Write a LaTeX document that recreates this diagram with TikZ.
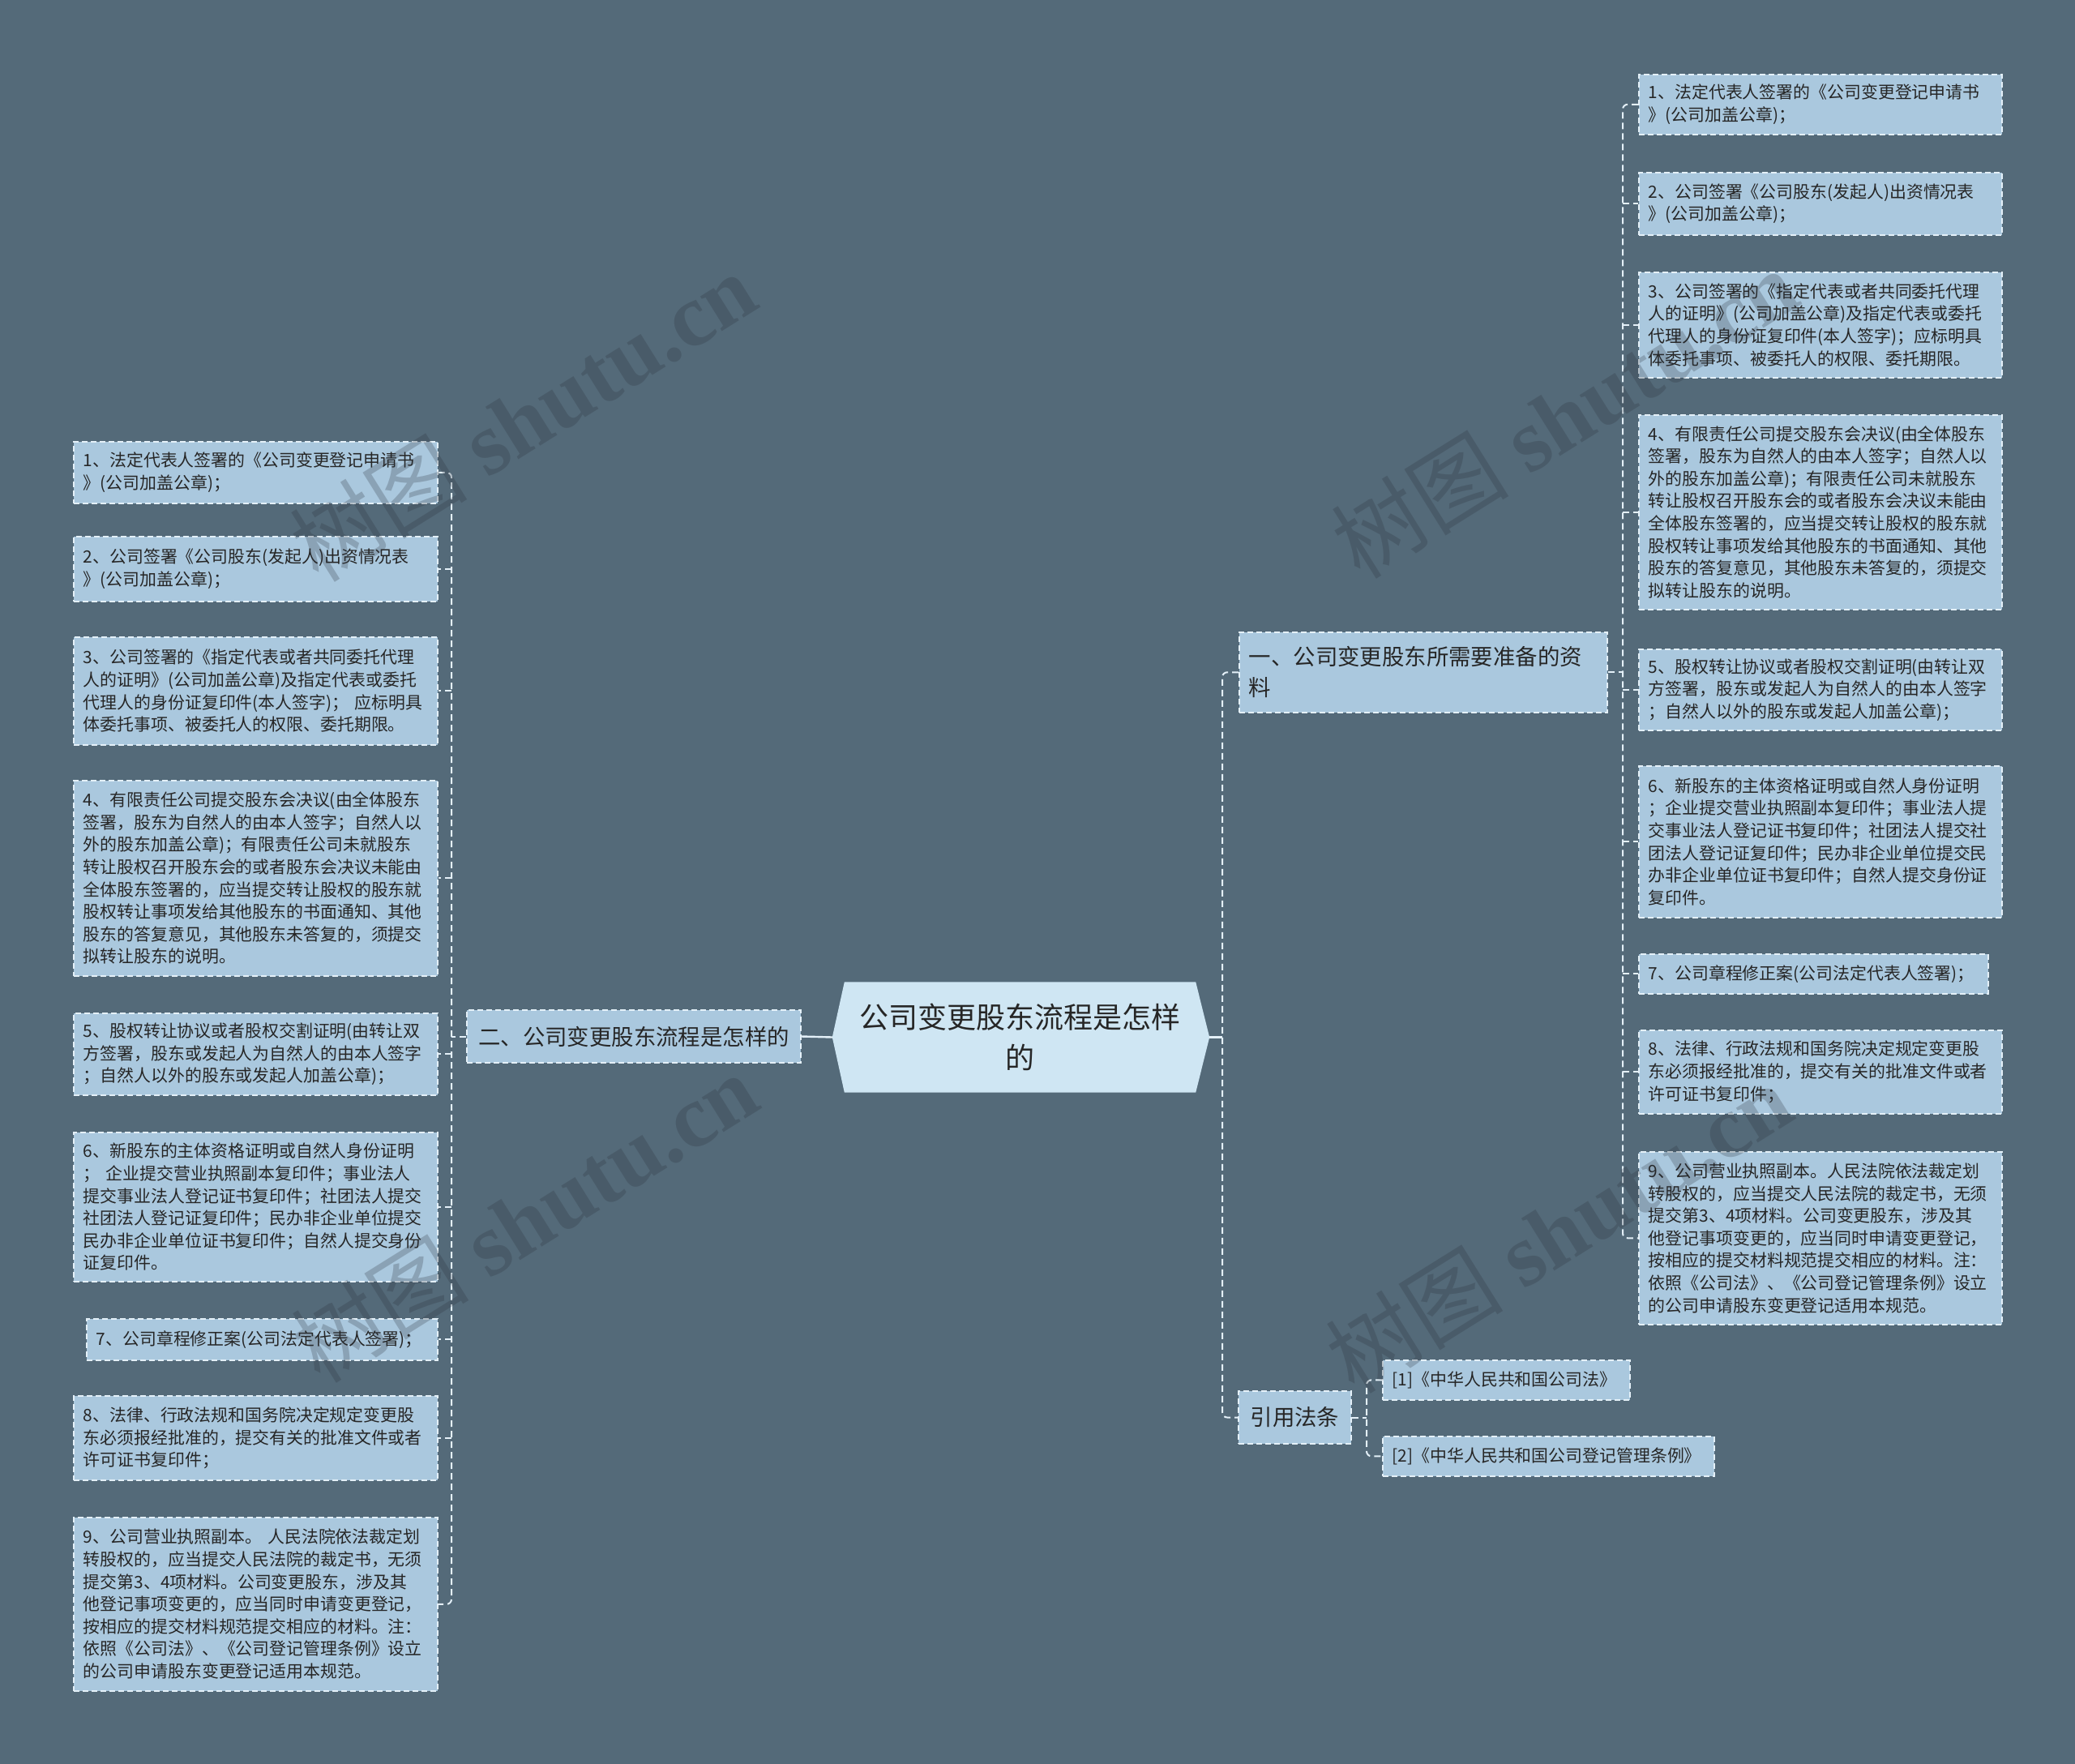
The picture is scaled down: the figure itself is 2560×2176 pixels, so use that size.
\documentclass[tikz,border=0pt]{standalone}
\usepackage{fontspec}
\setmainfont{Noto Sans CJK SC}
\newfontfamily\wmserif{Liberation Serif}
\usetikzlibrary{backgrounds}
\definecolor{bgc}{HTML}{546A79}
\definecolor{leafc}{HTML}{AAC8DE}
\definecolor{rootc}{HTML}{CFE6F3}
\definecolor{linec}{HTML}{E4F0F8}
\definecolor{txtc}{HTML}{262626}
\definecolor{wmc}{HTML}{2C323C}
\tikzset{
  box/.style={rectangle, fill=leafc, draw=linec, line width=1.6pt, dash pattern=on 7pt off 4pt, text=txtc, inner xsep=12pt, inner ysep=0pt, align=left},
  leaf/.style={box, anchor=north west, font=\fontsize{20.9}{27.6}\selectfont},
  branch/.style={box, font=\fontsize{27.4}{38}\selectfont},
  conn/.style={draw=linec, line width=2pt, dash pattern=on 8pt off 5pt},
  solidconn/.style={draw=linec, line width=2.4pt},
  wm/.style={text=wmc, opacity=0.25, font=\fontsize{110}{110}\selectfont, rotate=32, inner sep=0pt}
}
\begin{document}
\begin{tikzpicture}[x=1pt,y=-1pt]
\useasboundingbox (0,0) rectangle (2560,2176);
\begin{scope}[on background layer]
  \fill[bgc] (0,0) rectangle (2560,2176);
\end{scope}

% root
\node[font=\fontsize{36}{50}\selectfont, text=txtc, align=center, minimum width=433pt, minimum height=136pt, inner sep=0pt] (root) at (1258.5,1279.5) {公司变更股东流程是怎样\\的};
\coordinate (rootL) at ([xshift=-15pt]root.west);
\coordinate (rootR) at ([xshift=17pt]root.east);
\begin{scope}[on background layer]
  \fill[rootc] (rootL) -- (root.north west) -- (root.north east) -- (rootR) -- (root.south east) -- (root.south west) -- cycle;
\end{scope}

% branches
\node[branch, anchor=north west, text width=430pt, minimum height=99pt] (b1) at (1528,779) {一、公司变更股东所需要准备的资\\料};
\node[branch, align=center, minimum width=412pt, minimum height=65pt] (b2) at (782,1278.5) {二、公司变更股东流程是怎样的};
\node[branch, align=center, minimum width=139pt, minimum height=65pt] (b3) at (1597.5,1748.5) {引用法条};

% references
\node[leaf, text width=281pt, minimum height=49pt] (f1) at (1705,1677) {[1]《中华人民共和国公司法》};
\node[leaf, text width=385pt, minimum height=49pt] (f2) at (1705,1771) {[2]《中华人民共和国公司登记管理条例》};

% right leaves
\node[leaf, text width=424pt, minimum height=74pt] (R1) at (2021,91) {1、法定代表人签署的《公司变更登记申请书\\》(公司加盖公章)；};
\node[leaf, text width=424pt, minimum height=77pt] (R2) at (2021,212) {2、公司签署《公司股东(发起人)出资情况表\\》(公司加盖公章)；};
\node[leaf, text width=424pt, minimum height=130pt] (R3) at (2021,335) {3、公司签署的《指定代表或者共同委托代理\\人的证明》(公司加盖公章)及指定代表或委托\\代理人的身份证复印件(本人签字)；应标明具\\体委托事项、被委托人的权限、委托期限。};
\node[leaf, text width=424pt, minimum height=240pt] (R4) at (2021,511) {4、有限责任公司提交股东会决议(由全体股东\\签署，股东为自然人的由本人签字；自然人以\\外的股东加盖公章)；有限责任公司未就股东\\转让股权召开股东会的或者股东会决议未能由\\全体股东签署的，应当提交转让股权的股东就\\股权转让事项发给其他股东的书面通知、其他\\股东的答复意见，其他股东未答复的，须提交\\拟转让股东的说明。};
\node[leaf, text width=424pt, minimum height=100pt] (R5) at (2021,800) {5、股权转让协议或者股权交割证明(由转让双\\方签署，股东或发起人为自然人的由本人签字\\；自然人以外的股东或发起人加盖公章)；};
\node[leaf, text width=424pt, minimum height=187pt] (R6) at (2021,944) {6、新股东的主体资格证明或自然人身份证明\\；企业提交营业执照副本复印件；事业法人提\\交事业法人登记证书复印件；社团法人提交社\\团法人登记证复印件；民办非企业单位提交民\\办非企业单位证书复印件；自然人提交身份证\\复印件。};
\node[leaf, text width=407pt, minimum height=49pt] (R7) at (2021,1176) {7、公司章程修正案(公司法定代表人签署)；};
\node[leaf, text width=424pt, minimum height=103pt] (R8) at (2021,1270) {8、法律、行政法规和国务院决定规定变更股\\东必须报经批准的，提交有关的批准文件或者\\许可证书复印件；};
\node[leaf, text width=424pt, minimum height=213pt] (R9) at (2021,1420) {9、公司营业执照副本。人民法院依法裁定划\\转股权的，应当提交人民法院的裁定书，无须\\提交第3、4项材料。公司变更股东，涉及其\\他登记事项变更的，应当同时申请变更登记，\\按相应的提交材料规范提交相应的材料。注：\\依照《公司法》、《公司登记管理条例》设立\\的公司申请股东变更登记适用本规范。};

% left leaves
\node[leaf, text width=425pt, minimum height=76pt] (L1) at (90,544) {1、法定代表人签署的《公司变更登记申请书\\》(公司加盖公章)；};
\node[leaf, text width=425pt, minimum height=80pt] (L2) at (90,661) {2、公司签署《公司股东(发起人)出资情况表\\》(公司加盖公章)；};
\node[leaf, text width=425pt, minimum height=133pt] (L3) at (90,785) {3、公司签署的《指定代表或者共同委托代理\\人的证明》(公司加盖公章)及指定代表或委托\\代理人的身份证复印件(本人签字)； 应标明具\\体委托事项、被委托人的权限、委托期限。};
\node[leaf, text width=425pt, minimum height=241pt] (L4) at (90,962) {4、有限责任公司提交股东会决议(由全体股东\\签署，股东为自然人的由本人签字；自然人以\\外的股东加盖公章)；有限责任公司未就股东\\转让股权召开股东会的或者股东会决议未能由\\全体股东签署的，应当提交转让股权的股东就\\股权转让事项发给其他股东的书面通知、其他\\股东的答复意见，其他股东未答复的，须提交\\拟转让股东的说明。};
\node[leaf, text width=425pt, minimum height=101pt] (L5) at (90,1249) {5、股权转让协议或者股权交割证明(由转让双\\方签署，股东或发起人为自然人的由本人签字\\；自然人以外的股东或发起人加盖公章)；};
\node[leaf, text width=425pt, minimum height=184pt] (L6) at (90,1396) {6、新股东的主体资格证明或自然人身份证明\\；  企业提交营业执照副本复印件；事业法人\\提交事业法人登记证书复印件；社团法人提交\\社团法人登记证复印件；民办非企业单位提交\\民办非企业单位证书复印件；自然人提交身份\\证复印件。};
\node[leaf, text width=409pt, minimum height=51pt] (L7) at (106,1626) {7、公司章程修正案(公司法定代表人签署)；};
\node[leaf, text width=425pt, minimum height=104pt] (L8) at (90,1721) {8、法律、行政法规和国务院决定规定变更股\\东必须报经批准的，提交有关的批准文件或者\\许可证书复印件；};
\node[leaf, text width=425pt, minimum height=214pt] (L9) at (90,1871) {9、公司营业执照副本。 人民法院依法裁定划\\转股权的，应当提交人民法院的裁定书，无须\\提交第3、4项材料。公司变更股东，涉及其\\他登记事项变更的，应当同时申请变更登记，\\按相应的提交材料规范提交相应的材料。注：\\依照《公司法》、《公司登记管理条例》设立\\的公司申请股东变更登记适用本规范。};

% spine positions
\coordinate (msx) at (1508,0);
\coordinate (rsx) at (2002,0);
\coordinate (lsx) at (557,0);
\coordinate (fsx) at (1686,0);

% connectors
\draw[solidconn] (rootL) -- (b2.east);
\draw[solidconn] (rootR) -- (msx |- rootR);
\draw[conn, rounded corners=6pt] (b1.west) -- (msx |- b1.west) -- (msx |- b3.west) -- (b3.west);

\draw[conn] (b1.east) -- (rsx |- b1.east);
\draw[conn, rounded corners=6pt] (R1.west) -- (rsx |- R1.west) -- (rsx |- R9.west) -- (R9.west);
\foreach \n in {R2,R3,R4,R5,R6,R7,R8} \draw[conn] (rsx |- \n.west) -- (\n.west);

\draw[conn] (b2.west) -- (lsx |- b2.west);
\draw[conn, rounded corners=6pt] (L1.east) -- (lsx |- L1.east) -- (lsx |- L9.east) -- (L9.east);
\foreach \n in {L2,L3,L4,L5,L6,L7,L8} \draw[conn] (lsx |- \n.east) -- (\n.east);

\draw[conn] (b3.east) -- (fsx |- b3.east);
\draw[conn, rounded corners=6pt] (f1.west) -- (fsx |- f1.west) -- (fsx |- f2.west) -- (f2.west);

% watermarks
\node[wm] (w1) at (645,514) {树图 {\wmserif\bfseries shutu.cn}};
\node[wm] (w2) at (647,1502) {树图 {\wmserif\bfseries shutu.cn}};
\node[wm] (w3) at (1930,510) {树图 {\wmserif\bfseries shutu.cn}};
\node[wm] (w4) at (1923,1515) {树图 {\wmserif\bfseries shutu.cn}};
\end{tikzpicture}
\end{document}
